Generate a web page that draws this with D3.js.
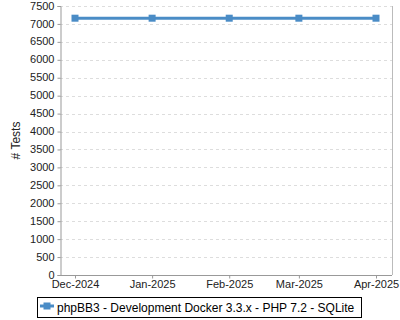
<!DOCTYPE html>
<html>
<head>
<meta charset="utf-8">
<script src="https://cdn.jsdelivr.net/npm/d3@7.9.0/dist/d3.min.js"></script>
<style>
  body { margin: 0; background: #fff; }
  svg { font-family: "Liberation Sans", Arial, sans-serif; }
</style>
</head>
<body>
<svg id="chart" width="400" height="320"></svg>
<script>
const months = ['2024-12-01', '2025-01-01', '2025-02-01', '2025-03-01', '2025-04-01'];
const tests = [7160, 7160, 7160, 7160, 7160];
const yTicks = d3.range(0, 7501, 500);
const seriesName = 'phpBB3 - Development Docker 3.3.x - PHP 7.2 - SQLite';
const lineColor = '#4a8cc6';

const parse = d3.timeParse('%Y-%m-%d');
const data = months.map((m, i) => ({ date: parse(m), value: tests[i] }));

const svg = d3.select('#chart');
const plotL = 60, plotR = 392, plotT = 6, plotB = 275;

const x = d3.scaleTime()
  .domain(d3.extent(data, d => d.date))
  .range([75, 376]);
const y = d3.scaleLinear().domain([0, 7500]).range([plotB, plotT]);

// grid
svg.append('g')
  .selectAll('line')
  .data(yTicks.filter(d => d > 0))
  .join('line')
  .attr('x1', plotL).attr('x2', plotR)
  .attr('y1', d => Math.round(y(d)) + 0.5).attr('y2', d => Math.round(y(d)) + 0.5)
  .attr('stroke', '#ddd')
  .attr('stroke-dasharray', '3,3');

// right border
svg.append('line')
  .attr('x1', plotR + 0.5).attr('x2', plotR + 0.5)
  .attr('y1', plotT).attr('y2', plotB)
  .attr('stroke', '#bbb');

const yAxis = svg.append('g')
  .attr('transform', `translate(${plotL + 0.5},0)`)
  .call(d3.axisLeft(y).tickValues(yTicks).tickSize(3).tickPadding(3).tickFormat(d3.format('d')));
const xAxis = svg.append('g')
  .attr('transform', `translate(0,${plotB + 0.5})`)
  .call(d3.axisBottom(x).tickValues(data.map(d => d.date)).tickSize(3).tickPadding(2)
    .tickFormat(d3.timeFormat('%b-%Y')));

[yAxis, xAxis].forEach(ax => {
  ax.select('.domain').attr('stroke', '#999');
  ax.selectAll('.tick line').attr('stroke', '#999');
  ax.selectAll('.tick text').attr('fill', '#222').style('font-size', '11px');
});
xAxis.select('.domain').attr('d', `M${plotL},0H${plotR}`);
yAxis.selectAll('.tick text').attr('dy', '0.28em');

svg.append('text')
  .attr('transform', `translate(20,${(plotT + plotB) / 2}) rotate(-90)`)
  .attr('text-anchor', 'middle')
  .style('font-size', '12px')
  .attr('fill', '#222')
  .text('# Tests');

// series
svg.append('path')
  .datum(data)
  .attr('fill', 'none')
  .attr('stroke', lineColor)
  .attr('stroke-width', 3)
  .attr('d', d3.line().x(d => x(d.date)).y(d => y(d.value)));

svg.append('g')
  .selectAll('rect')
  .data(data)
  .join('rect')
  .attr('x', d => x(d.date) - 3.5)
  .attr('y', d => y(d.value) - 3.5)
  .attr('width', 7).attr('height', 7)
  .attr('fill', lineColor);

// legend
const legend = svg.append('g');
legend.append('rect')
  .attr('x', 37.5).attr('y', 297.5)
  .attr('width', 324).attr('height', 20)
  .attr('fill', '#fff').attr('stroke', '#000');
legend.append('line')
  .attr('x1', 40).attr('x2', 54).attr('y1', 306).attr('y2', 306)
  .attr('stroke', lineColor).attr('stroke-width', 3);
legend.append('rect')
  .attr('x', 43.5).attr('y', 302.5).attr('width', 7).attr('height', 7)
  .attr('fill', lineColor);
legend.append('text')
  .attr('x', 57).attr('y', 312)
  .style('font-size', '12px')
  .attr('fill', '#000')
  .text(seriesName);
</script>
</body>
</html>
